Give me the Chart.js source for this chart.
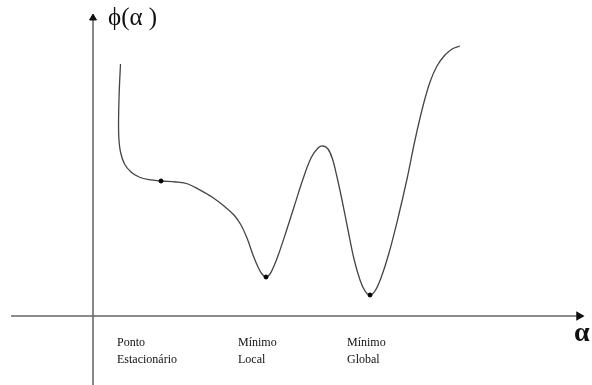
<!DOCTYPE html>
<html>
<head>
<meta charset="utf-8">
<script src="https://cdn.jsdelivr.net/npm/chart.js@4.4.1/dist/chart.umd.min.js"></script>
<style>
  html, body { margin: 0; padding: 0; background: #fff; }
  canvas { display: block; }
</style>
</head>
<body>
<canvas id="phiChart" width="592" height="385"></canvas>
<script>
// phi(alpha) curve, origin where the two axes cross
const curveAlpha = [27.5, 26.3, 25.6, 25.8, 27.5, 31.5, 38, 46, 56, 68, 83, 95, 107, 119, 131, 141,
  148, 154, 160, 165, 169, 173, 177, 181, 186, 193, 201, 210, 218, 225, 230, 235, 239.5, 244,
  249, 255, 261, 267, 272, 277, 282, 288, 296, 305, 314, 322, 330, 337, 344, 352, 360, 367];
const curvePhi = [252, 226, 199, 179, 164, 152, 144, 139, 136.3, 135, 134, 132, 126, 119, 110, 101,
  91, 78, 61, 49, 42, 39, 42, 50, 63, 84, 109, 137, 158, 168, 170, 167, 157, 139,
  116, 86, 57, 36, 25, 21, 25, 38, 63, 98, 137, 176, 210, 234, 250, 261, 267.5, 270];

// marked points: stationary point, local minimum, global minimum
const markAlpha = [68, 173, 277];
const markPhi = [135, 39, 21];
const markNames = [['Ponto', 'Estacionário'], ['Mínimo', 'Local'], ['Mínimo', 'Global']];
const nameAlpha = [24, 145, 254];

// axis extents
const alphaAxis = [-82, 486];
const phiAxis = [-69, 298];

const toXY = (xs, ys) => xs.map((x, i) => ({ x: x, y: ys[i] }));

const dashed = markAlpha.map((a, i) => ({
  data: [{ x: a, y: 0 }, { x: a, y: markPhi[i] }],
  borderColor: '#222',
  borderWidth: 1,
  borderDash: [3, 2],
  pointRadius: 0,
  order: 3
}));

// text labels drawn at data coordinates
const textLabels = {
  id: 'textLabels',
  afterDatasetsDraw(chart) {
    const { ctx, scales: { x, y } } = chart;
    ctx.save();
    ctx.fillStyle = '#111';
    ctx.textBaseline = 'middle';
    ctx.textAlign = 'left';
    ctx.font = '12px "Liberation Serif", serif';
    markNames.forEach((lines, i) => {
      lines.forEach((t, j) => {
        ctx.fillText(t, x.getPixelForValue(nameAlpha[i]), y.getPixelForValue(-27 - j * 17));
      });
    });
    ctx.font = '25px "Liberation Serif", serif';
    ctx.fillText('ϕ(α )', x.getPixelForValue(15), y.getPixelForValue(298));
    ctx.font = 'bold 28px "Liberation Serif", serif';
    ctx.fillText('α', x.getPixelForValue(481), y.getPixelForValue(-18));
    ctx.restore();
  }
};

new Chart(document.getElementById('phiChart'), {
  type: 'scatter',
  data: {
    datasets: [
      {
        data: toXY(curveAlpha, curvePhi),
        showLine: true,
        borderColor: '#444',
        borderWidth: 1.3,
        tension: 0.35,
        pointRadius: 0,
        order: 1
      },
      {
        data: toXY(markAlpha, markPhi),
        pointRadius: 2,
        pointBackgroundColor: '#000',
        pointBorderColor: '#000',
        order: 0
      },
      {
        // horizontal axis with arrow
        data: [{ x: alphaAxis[0], y: 0 }, { x: alphaAxis[1], y: 0 }],
        showLine: true,
        borderColor: '#666',
        borderWidth: 1.5,
        pointStyle: 'triangle',
        pointRadius: [0, 4],
        rotation: 90,
        pointBackgroundColor: '#111',
        pointBorderColor: '#111',
        order: 2
      },
      {
        // vertical axis with arrow
        data: [{ x: 0, y: phiAxis[0] }, { x: 0, y: phiAxis[1] }],
        showLine: true,
        borderColor: '#111',
        borderWidth: 1,
        pointStyle: 'triangle',
        pointRadius: [0, 4],
        pointBackgroundColor: '#111',
        pointBorderColor: '#111',
        order: 2
      },
      ...dashed
    ]
  },
  options: {
    responsive: false,
    animation: false,
    devicePixelRatio: 1,
    layout: { padding: 0, autoPadding: false },
    plugins: { legend: { display: false }, tooltip: { enabled: false } },
    scales: {
      x: { type: 'linear', min: -93, max: 499, display: false },
      y: { type: 'linear', min: -69, max: 316, display: false }
    }
  },
  plugins: [textLabels]
});
</script>
</body>
</html>
